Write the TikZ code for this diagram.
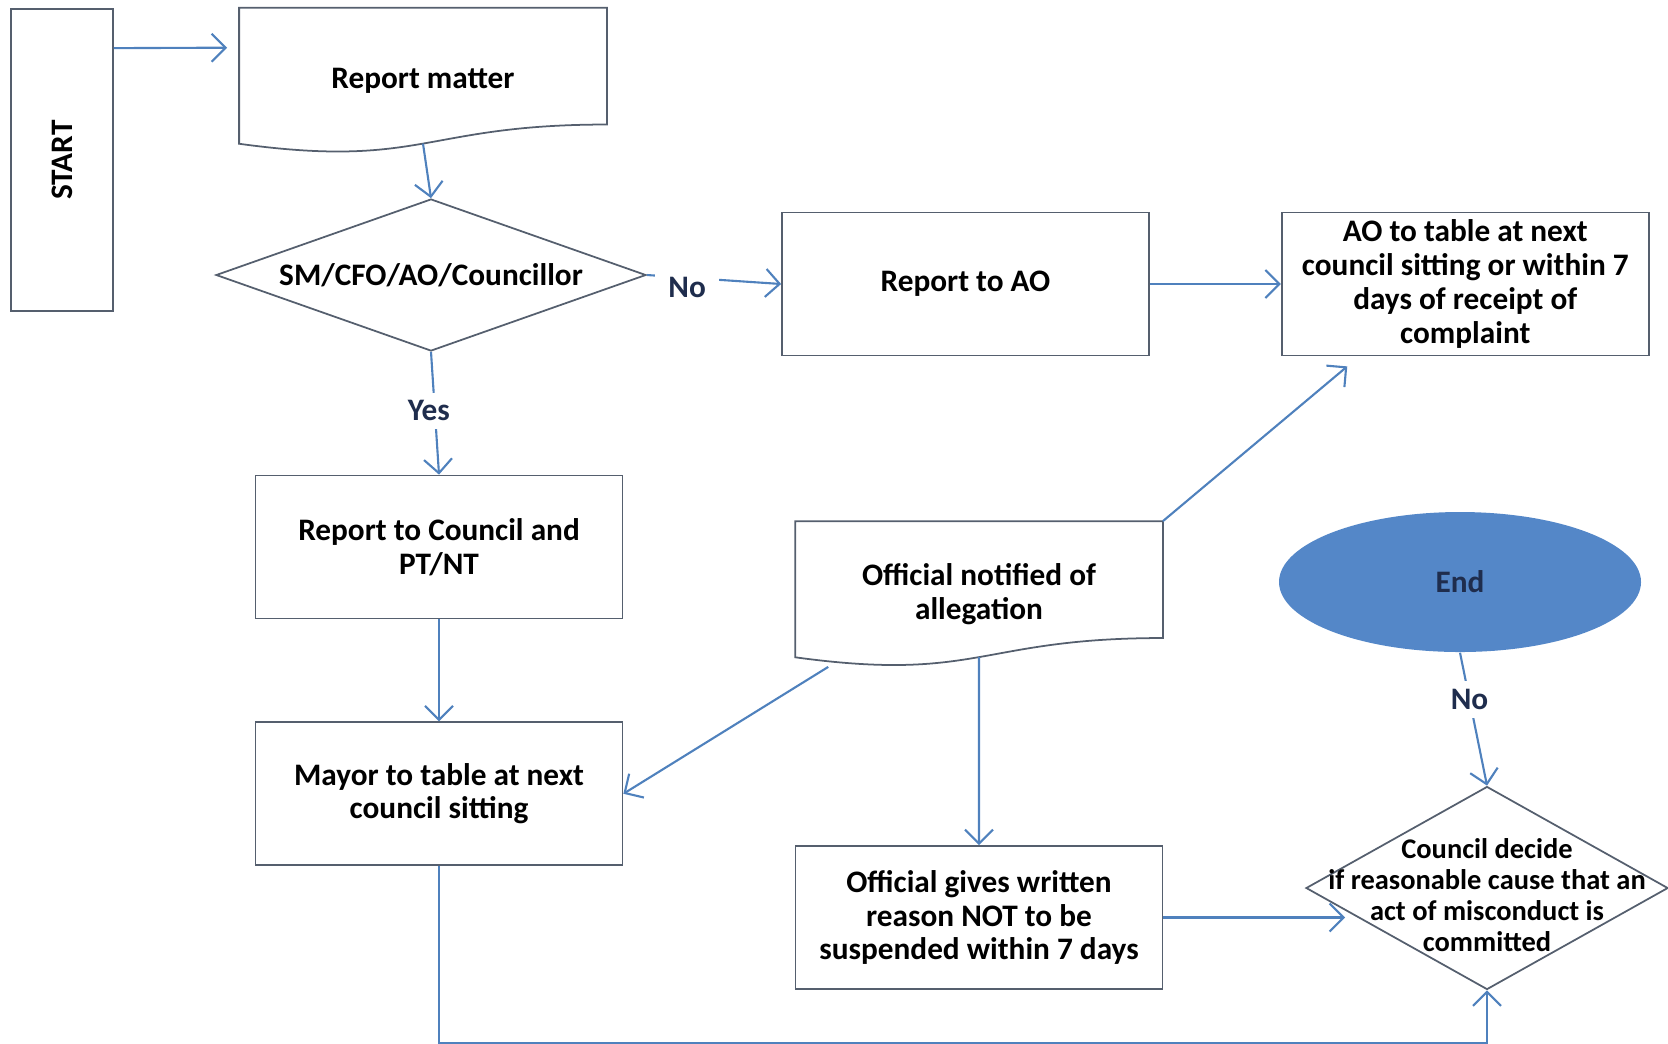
\documentclass[tikz,border=0pt]{standalone}
\usepackage{graphicx}
\usepackage{fontspec}
\setmainfont{Carlito}
\usepackage{tikz}
\usetikzlibrary{arrows.meta,positioning,shapes.geometric,calc}
\definecolor{flowline}{RGB}{79,129,189}
\definecolor{boxedge}{RGB}{85,95,110}
\definecolor{endfill}{RGB}{84,135,200}
\definecolor{labnavy}{RGB}{31,45,77}
\newcommand{\flowfont}{\fontsize{8.9pt}{9.6pt}\selectfont\bfseries}

% outline of a document box, wave at the bottom
\newcommand{\docoutline}[1]{%
  \draw[docline] (#1.north west) -- (#1.north east)
    -- ($(#1.north east)!0.802!(#1.south east)$)
    .. controls ($(#1.north)!0.802!(#1.south)$) and ($(#1.north)!1.107!(#1.south)$)
    .. ($(#1.north west)!0.934!(#1.south west)$) -- cycle;
  \coordinate (#1-w) at ($(#1.north)!0.933!(#1.south)$);}

\begin{document}
\begin{tikzpicture}[
    x=0.1mm, y=-0.1mm,
    box/.style={draw=boxedge, line width=0.5pt, minimum width=36.7mm, minimum height=14.3mm, inner xsep=1mm, inner ysep=0.3mm, align=center, font=\flowfont},
    doc/.style={box, draw=none, minimum width=36.6mm, minimum height=14.4mm},
    docline/.style={draw=boxedge, line width=0.5pt},
    dia/.style={diamond, draw=boxedge, line width=0.5pt, inner sep=0pt},
    arr/.style={-{Straight Barb[length=1.4mm, width=2.8mm]}, flowline, line width=0.6pt},
    lab/.style={font=\flowfont, text=labnavy, fill=white, inner xsep=1.3mm, inner ysep=0.8mm}
]
    \useasboundingbox (0,0) rectangle (1668,1043);

    \node[box, minimum width=10.2mm, minimum height=30.2mm] (start) at (62,160) {\rotatebox{90}{START}};
    \node[doc] (rm) at (423,80.5) {Report matter};
    \docoutline{rm}
    \node[dia, minimum width=43mm, minimum height=15.2mm,
        label={[name=dec1t, font=\flowfont]center:SM/CFO/AO/Councillor}] (dec1) at (431,275) {};

    \node[box] (rao) at (965.5,284) {Report to AO};
    \node[box, right=13.1mm of rao] (aot) {AO to table at next\\council sitting or within 7\\days of receipt of\\complaint};

    \node[box] (rc) at (439,547) {Report to Council and\\PT/NT};
    \node[box, below=10.2mm of rc] (mayor) {Mayor to table at next\\council sitting};

    \node[doc] (off) at (979,594) {Official notified of\\allegation};
    \docoutline{off}
    \node[box] (wr) at (979,917.5) {Official gives written\\reason NOT to be\\suspended within 7 days};

    \node[ellipse, fill=endfill, minimum width=36.2mm, minimum height=14mm, font=\flowfont, text=labnavy] (endn) at (1460,582) {End};
    \node[dia, minimum width=36.2mm, minimum height=20.3mm,
        label={[name=dec2t, align=center, yshift=-0.7mm, font=\fontsize{8.1pt}{8.8pt}\selectfont\bfseries]center:Council decide\\if reasonable cause that an\\act of misconduct is\\committed}] (dec2) at (1487,888) {};

    \draw[arr, shorten >=1.2mm] ($(start.north east)+(0,40)$) -- ($(rm.north west)+(0,40)$);
    \draw[arr] (rm-w) -- (dec1.north);
    \draw[arr] (dec1.east) -- node[lab, pos=0.3, yshift=-1mm] {No} (rao.west);
    \draw[arr] (rao) -- (aot);
    \draw[arr] (dec1.south) -- node[lab, pos=0.48, xshift=-0.6mm] {Yes} (rc.north);
    \draw[arr] (rc) -- (mayor);

    \draw[arr] (off.north east) -- ($(aot.south west)!0.18!(aot.south east)+(0,10)$);
    \draw[arr] ($(off.south west)!0.09!(off.south east)$) -- (mayor.east);
    \draw[arr] (off-w) -- (wr.north);
    \draw[arr] (wr.east) -- ($(wr.east -| dec2.west)+(40,0)$);

    \draw[arr] (endn.south) -- node[lab, pos=0.35] {No} (dec2.north);
    \draw[arr] (mayor.south) -- ++(0,177) -| (dec2.south);
\end{tikzpicture}
\end{document}
